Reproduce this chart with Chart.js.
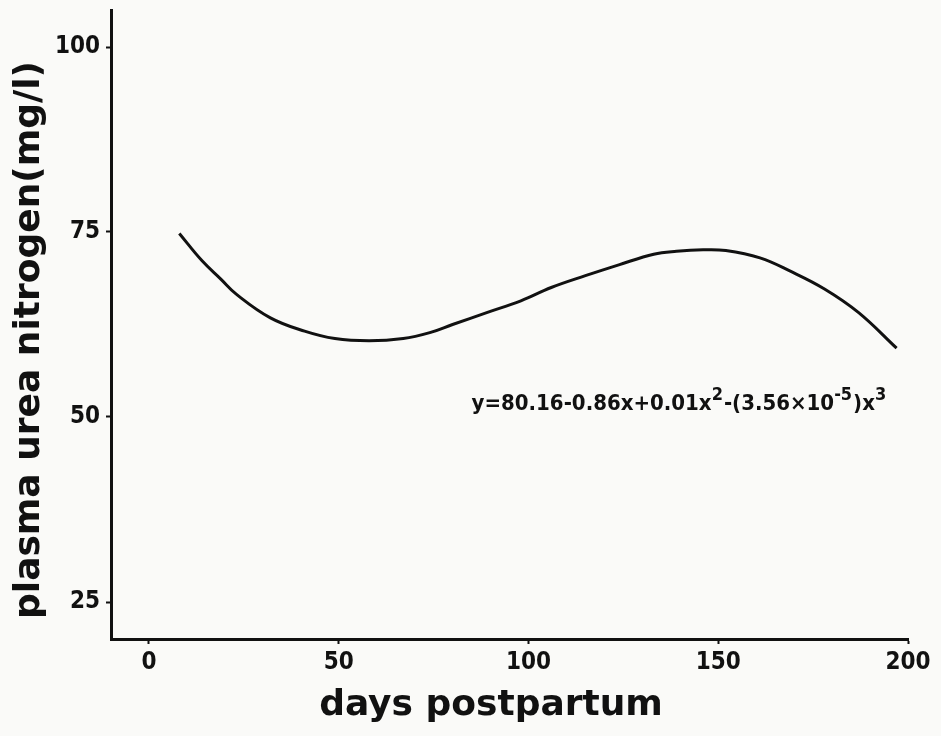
<!DOCTYPE html>
<html>
<head>
<meta charset="utf-8">
<script src="https://cdn.jsdelivr.net/npm/chart.js@4/dist/chart.umd.min.js"></script>
<style>
  html, body { margin: 0; padding: 0; background: #fafaf8; }
  #wrap { width: 941px; height: 736px; position: relative; }
</style>
</head>
<body>
<div id="wrap"><canvas id="c"></canvas></div>
<script>
// ---- data ----
const days = [8, 14, 19, 23, 32, 41, 49, 58, 67, 74, 80, 89, 98, 106, 115, 124, 133, 139, 146, 152, 161, 169, 178, 187, 197];
const urea = [74.8, 71.1, 68.6, 66.6, 63.4, 61.6, 60.6, 60.3, 60.6, 61.4, 62.5, 64.1, 65.7, 67.5, 69.1, 70.6, 72.0, 72.4, 72.6, 72.5, 71.5, 69.7, 67.3, 64.1, 59.3];
const xTicks = [0, 50, 100, 150, 200];
const yTicks = [25, 50, 75, 100];
const xTitle = 'days postpartum';
const yTitle = 'plasma urea nitrogen(mg/l)';
const equationParts = [
  ['y=80.16-0.86x+0.01x', false],
  ['2', true],
  ['-(3.56\u00d710', false],
  ['-5', true],
  [')x', false],
  ['3', true]
];

const narrow = "'Liberation Sans Narrow', 'DejaVu Sans Condensed', Arial, sans-serif";
const tickFont = { family: narrow, weight: 'bold', size: 24 };
const titleFontCss = "bold 36px 'DejaVu Sans', 'Liberation Sans', sans-serif";

const annotationPlugin = {
  id: 'annot',
  afterDatasetsDraw(chart, args, opts) {
    const ctx = chart.ctx;
    const xs = chart.scales.x, ys = chart.scales.y;
    ctx.save();
    ctx.fillStyle = '#111';
    // equation
    let x = xs.getPixelForValue(opts.eqX);
    const y = ys.getPixelForValue(opts.eqY);
    ctx.textBaseline = 'alphabetic';
    ctx.textAlign = 'left';
    for (const [txt, sup] of equationParts) {
      ctx.font = 'bold ' + (sup ? 18 : 22) + 'px ' + narrow;
      ctx.fillText(txt, x, sup ? y - 10 : y);
      x += ctx.measureText(txt).width + (sup ? 1 : 0);
    }
    // axis titles
    ctx.font = titleFontCss;
    ctx.textAlign = 'center';
    ctx.textBaseline = 'middle';
    ctx.fillText(xTitle, opts.xTitleX, opts.xTitleY);
    ctx.translate(opts.yTitleX, opts.yTitleY);
    ctx.rotate(-Math.PI / 2);
    ctx.fillText(yTitle, 0, 0);
    ctx.restore();
  }
};

new Chart(document.getElementById('c'), {
  type: 'line',
  data: {
    datasets: [{
      data: days.map((d, i) => ({ x: d, y: urea[i] })),
      borderColor: '#111',
      borderWidth: 3,
      pointRadius: 0,
      tension: 0.4,
      fill: false
    }]
  },
  options: {
    responsive: true,
    maintainAspectRatio: false,
    animation: false,
    layout: { autoPadding: false, padding: { left: 0, right: 33, top: 10, bottom: 0 } },
    plugins: {
      legend: { display: false },
      tooltip: { enabled: false },
      annot: { eqX: 85, eqY: 51, xTitleX: 491, xTitleY: 706, yTitleX: 30, yTitleY: 340 }
    },
    scales: {
      x: {
        type: 'linear',
        min: -10,
        max: 200,
        afterBuildTicks: s => { s.ticks = xTicks.map(v => ({ value: v })); },
        afterFit: s => { s.height = 97; s.paddingLeft = 0; s.paddingRight = 0; },
        border: { display: true, color: '#111', width: 3 },
        grid: { drawOnChartArea: false, drawTicks: true, tickLength: 5, tickWidth: 2, tickColor: '#111' },
        ticks: { color: '#111', font: tickFont, padding: 4, maxRotation: 0, autoSkip: false }
      },
      y: {
        type: 'linear',
        min: 20,
        max: 105,
        afterBuildTicks: s => { s.ticks = yTicks.map(v => ({ value: v })); },
        afterFit: s => { s.width = 111; s.paddingTop = 0; s.paddingBottom = 0; },
        border: { display: true, color: '#111', width: 3 },
        grid: { drawOnChartArea: false, drawTicks: true, tickLength: 5, tickWidth: 2, tickColor: '#111' },
        ticks: { color: '#111', font: tickFont, padding: 6, autoSkip: false }
      }
    }
  },
  plugins: [annotationPlugin]
});
</script>
</body>
</html>
